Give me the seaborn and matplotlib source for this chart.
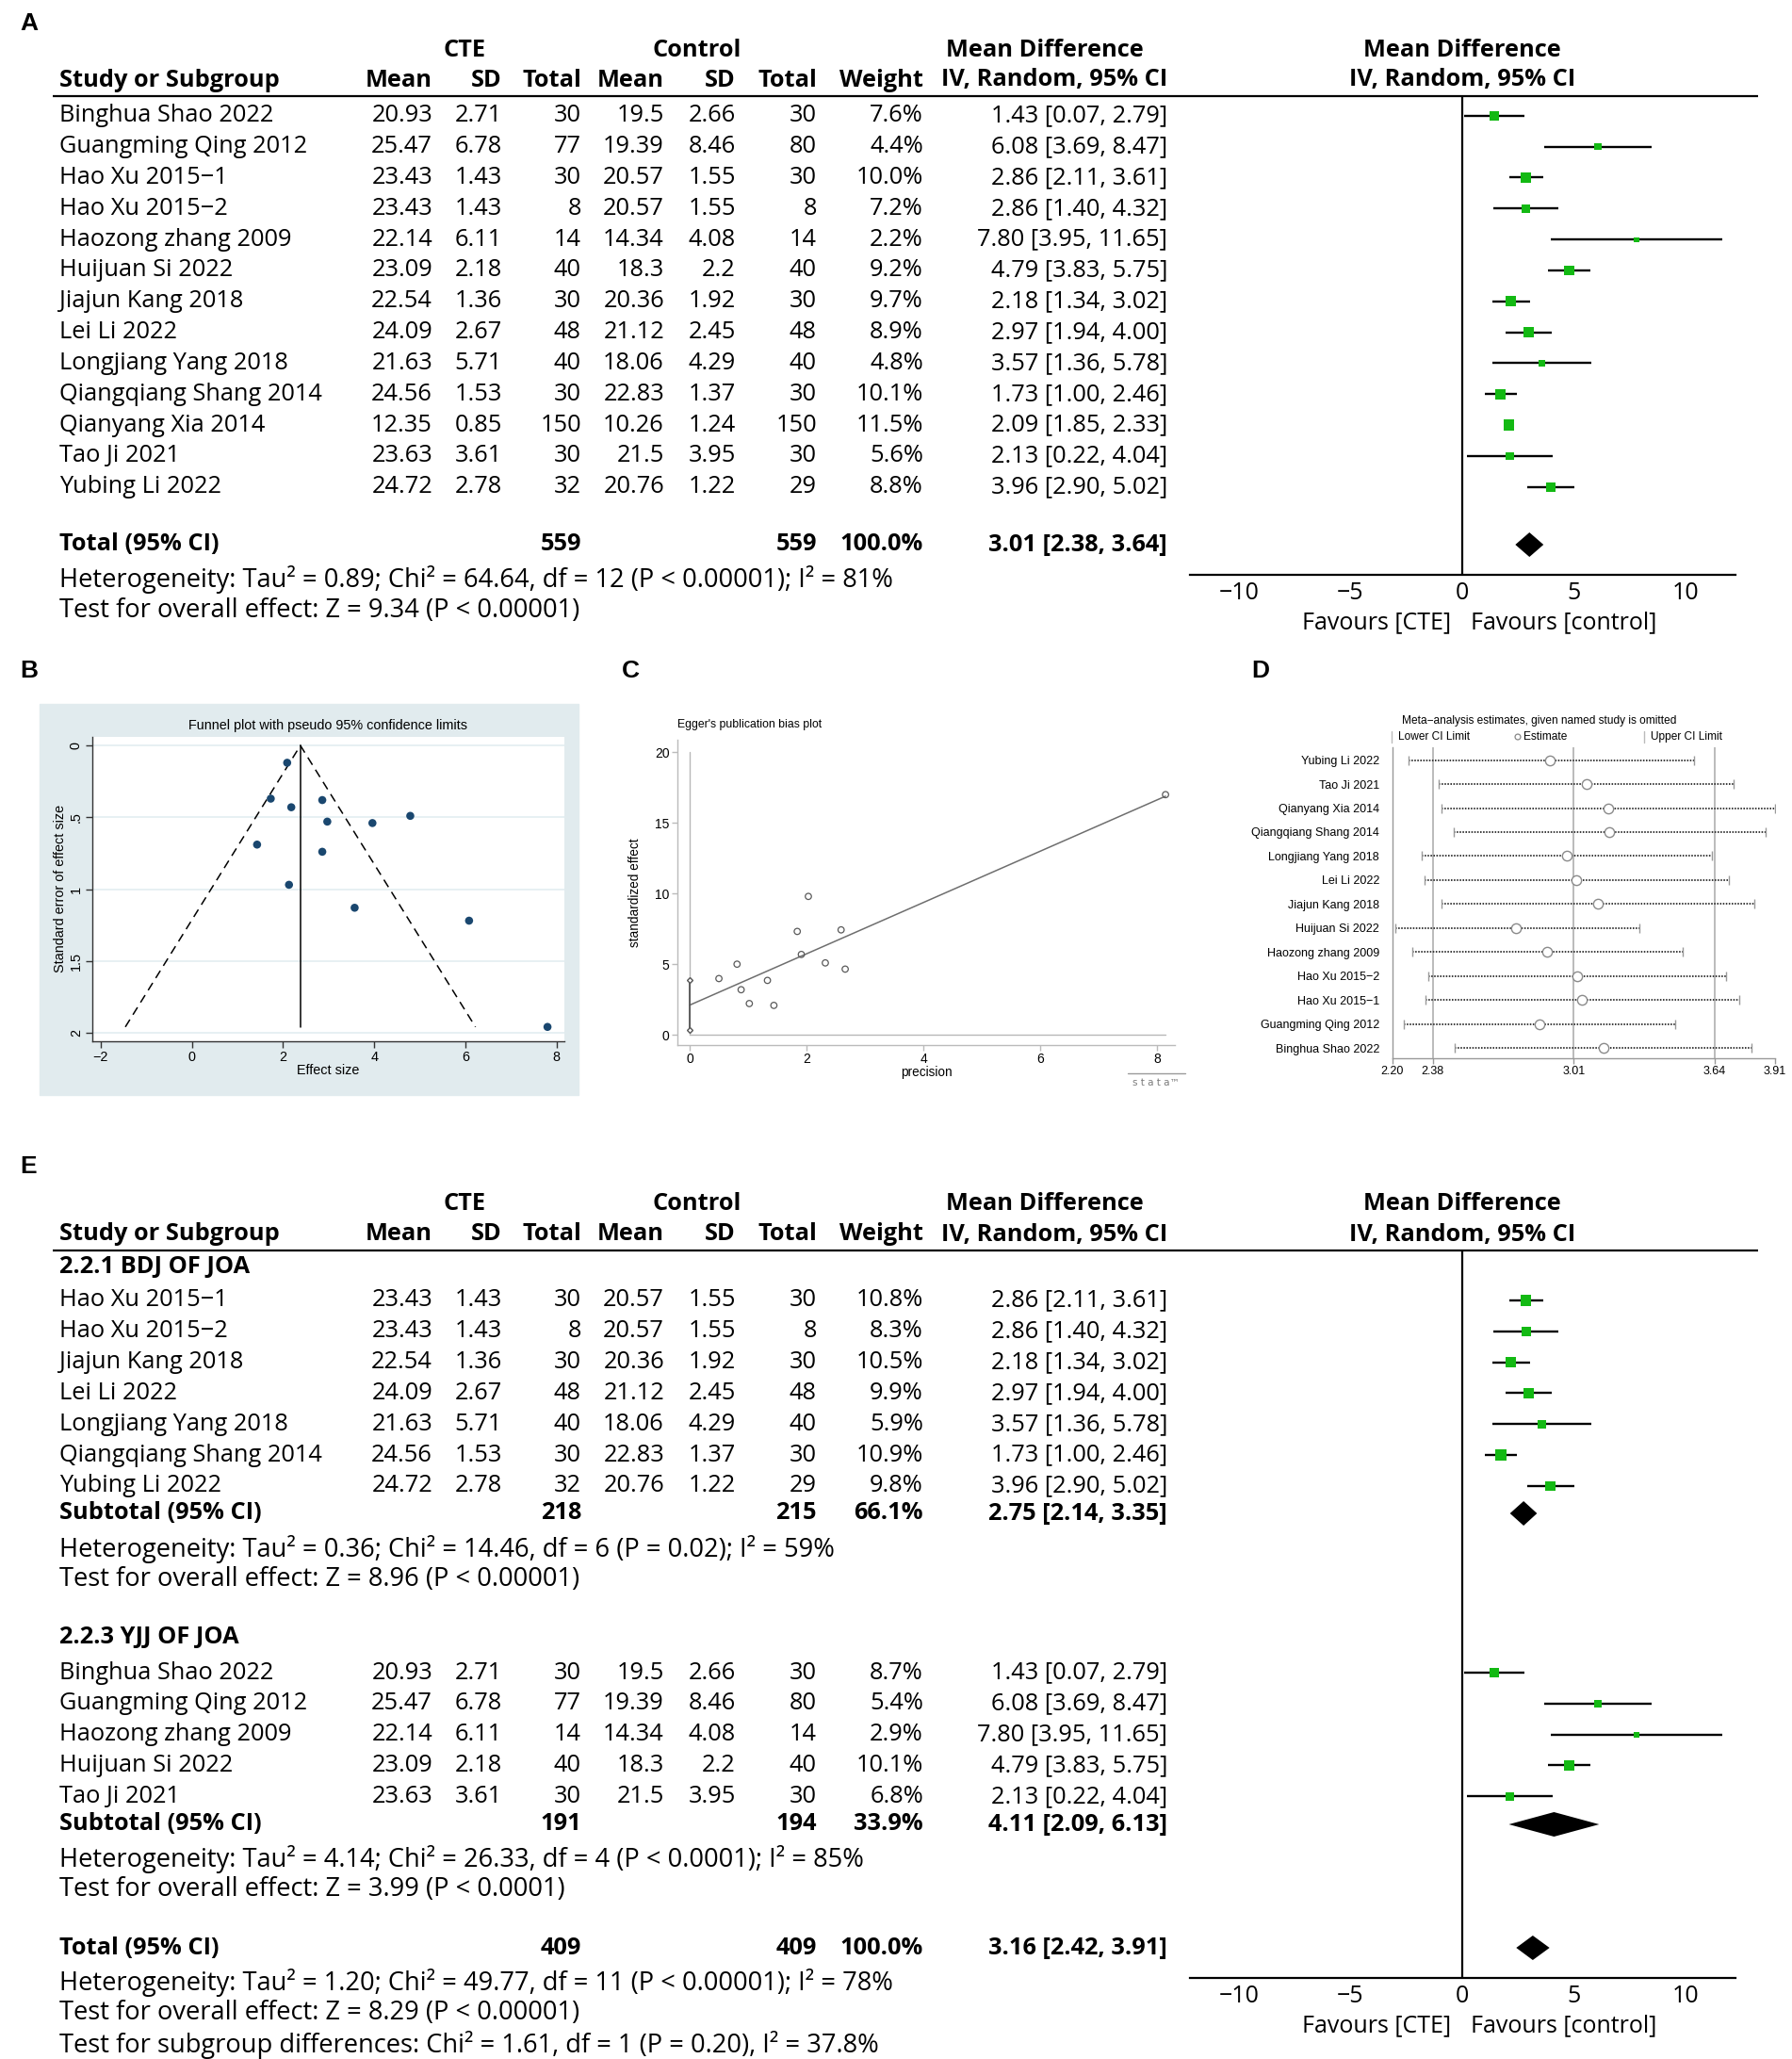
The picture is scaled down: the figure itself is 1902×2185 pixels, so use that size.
import numpy as np
import pandas as pd
import matplotlib
matplotlib.use("Agg")
import matplotlib.pyplot as plt
import seaborn as sns

# ---------------------------------------------------------------- data
study = ["Binghua Shao 2022", "Guangming Qing 2012", "Hao Xu 2015\u22121", "Hao Xu 2015\u22122",
         "Haozong zhang 2009", "Huijuan Si 2022", "Jiajun Kang 2018", "Lei Li 2022",
         "Longjiang Yang 2018", "Qiangqiang Shang 2014", "Qianyang Xia 2014", "Tao Ji 2021",
         "Yubing Li 2022"]
cte_mean = [20.93, 25.47, 23.43, 23.43, 22.14, 23.09, 22.54, 24.09, 21.63, 24.56, 12.35, 23.63, 24.72]
cte_sd = [2.71, 6.78, 1.43, 1.43, 6.11, 2.18, 1.36, 2.67, 5.71, 1.53, 0.85, 3.61, 2.78]
cte_n = [30, 77, 30, 8, 14, 40, 30, 48, 40, 30, 150, 30, 32]
ctl_mean = [19.5, 19.39, 20.57, 20.57, 14.34, 18.3, 20.36, 21.12, 18.06, 22.83, 10.26, 21.5, 20.76]
ctl_sd = [2.66, 8.46, 1.55, 1.55, 4.08, 2.2, 1.92, 2.45, 4.29, 1.37, 1.24, 3.95, 1.22]
ctl_n = [30, 80, 30, 8, 14, 40, 30, 48, 40, 30, 150, 30, 29]
weight_all = [7.6, 4.4, 10.0, 7.2, 2.2, 9.2, 9.7, 8.9, 4.8, 10.1, 11.5, 5.6, 8.8]
md = [1.43, 6.08, 2.86, 2.86, 7.80, 4.79, 2.18, 2.97, 3.57, 1.73, 2.09, 2.13, 3.96]
md_lo = [0.07, 3.69, 2.11, 1.40, 3.95, 3.83, 1.34, 1.94, 1.36, 1.00, 1.85, 0.22, 2.90]
md_hi = [2.79, 8.47, 3.61, 4.32, 11.65, 5.75, 3.02, 4.00, 5.78, 2.46, 2.33, 4.04, 5.02]
total_A = dict(n1=559, n2=559, w="100.0%", est=3.01, lo=2.38, hi=3.64)
het_A = ["Heterogeneity: Tau\u00b2 = 0.89; Chi\u00b2 = 64.64, df = 12 (P < 0.00001); I\u00b2 = 81%",
         "Test for overall effect: Z = 9.34 (P < 0.00001)"]

# subgroup analysis (panel E)
sub1_name = "2.2.1 BDJ OF JOA"
sub1_studies = ["Hao Xu 2015\u22121", "Hao Xu 2015\u22122", "Jiajun Kang 2018", "Lei Li 2022",
                "Longjiang Yang 2018", "Qiangqiang Shang 2014", "Yubing Li 2022"]
sub1_weight = [10.8, 8.3, 10.5, 9.9, 5.9, 10.9, 9.8]
sub1_total = dict(n1=218, n2=215, w="66.1%", est=2.75, lo=2.14, hi=3.35)
sub1_het = ["Heterogeneity: Tau\u00b2 = 0.36; Chi\u00b2 = 14.46, df = 6 (P = 0.02); I\u00b2 = 59%",
            "Test for overall effect: Z = 8.96 (P < 0.00001)"]
sub2_name = "2.2.3 YJJ OF JOA"
sub2_studies = ["Binghua Shao 2022", "Guangming Qing 2012", "Haozong zhang 2009",
                "Huijuan Si 2022", "Tao Ji 2021"]
sub2_weight = [8.7, 5.4, 2.9, 10.1, 6.8]
sub2_total = dict(n1=191, n2=194, w="33.9%", est=4.11, lo=2.09, hi=6.13)
sub2_het = ["Heterogeneity: Tau\u00b2 = 4.14; Chi\u00b2 = 26.33, df = 4 (P < 0.0001); I\u00b2 = 85%",
            "Test for overall effect: Z = 3.99 (P < 0.0001)"]
total_E = dict(n1=409, n2=409, w="100.0%", est=3.16, lo=2.42, hi=3.91)
het_E = ["Heterogeneity: Tau\u00b2 = 1.20; Chi\u00b2 = 49.77, df = 11 (P < 0.00001); I\u00b2 = 78%",
         "Test for overall effect: Z = 8.29 (P < 0.00001)",
         "Test for subgroup differences: Chi\u00b2 = 1.61, df = 1 (P = 0.20), I\u00b2 = 37.8%"]

# funnel plot (panel B)
funnel_se = [0.69, 1.22, 0.38, 0.74, 1.96, 0.49, 0.43, 0.53, 1.13, 0.37, 0.12, 0.97, 0.54]
funnel_center = 2.38
funnel_x = [-1.46, 2.38, 6.22]
funnel_y = [1.96, 0.0, 1.96]

# Egger plot (panel C)
egger_prec = [0.50, 0.81, 0.88, 1.02, 1.33, 1.44, 1.84, 1.91, 2.03, 2.32, 2.59, 2.66, 8.14]
egger_std = [3.98, 5.00, 3.19, 2.21, 3.85, 2.08, 7.32, 5.69, 9.80, 5.09, 7.43, 4.65, 17.01]
egger_line_x = [0.0, 8.14]
egger_line_y = [2.10, 16.90]
egger_ci = [0.31, 3.87]

# sensitivity analysis (panel D)
sens_study = ["Yubing Li 2022", "Tao Ji 2021", "Qianyang Xia 2014", "Qiangqiang Shang 2014",
              "Longjiang Yang 2018", "Lei Li 2022", "Jiajun Kang 2018", "Huijuan Si 2022",
              "Haozong zhang 2009", "Hao Xu 2015\u22122", "Hao Xu 2015\u22121", "Guangming Qing 2012",
              "Binghua Shao 2022"]
sens_est = [2.905, 3.067, 3.164, 3.169, 2.981, 3.022, 3.118, 2.751, 2.892, 3.027, 3.048, 2.856, 3.143]
sens_lo = [2.271, 2.408, 2.419, 2.473, 2.332, 2.344, 2.419, 2.211, 2.287, 2.359, 2.346, 2.251, 2.479]
sens_hi = [3.546, 3.724, 3.910, 3.868, 3.629, 3.704, 3.818, 3.304, 3.497, 3.693, 3.751, 3.464, 3.804]
sens_ticks = [2.20, 2.38, 3.01, 3.64, 3.91]
sens_ref = [2.38, 3.01, 3.64]

forest_ticks = [-10, -5, 0, 5, 10]

# ---------------------------------------------------------------- setup
W, H = 1902, 2185
sns.set_theme(style="white")
plt.rcParams["font.family"] = ["Liberation Sans", "DejaVu Sans"]
TBL = ["Open Sans", "DejaVu Sans"]
ARIAL = ["Liberation Sans", "DejaVu Sans"]
TFS = 18.3
HFS = 19.6
FFS = 18.0
GREEN = "#13b913"

fig = plt.figure(figsize=(W / 100, H / 100), dpi=100)
bg = fig.add_axes([0, 0, 1, 1])
bg.set_xlim(0, W)
bg.set_ylim(H, 0)
bg.axis("off")


def px_axes(x0, y0, x1, y1):
    return fig.add_axes([x0 / W, 1 - y1 / H, (x1 - x0) / W, (y1 - y0) / H])


def t(x, y, s, ha="left", bold=False, size=TFS, family=TBL, **kw):
    bg.text(x, y, s, ha=ha, va="center", fontsize=size, family=family,
            fontweight="bold" if bold else "normal", color=kw.pop("color", "black"), **kw)


def fmt(v):
    return f"{v:g}"


COLS = dict(m1=459, s1=533, n1=617, m2=705, s2=781, n2=867, w=980, ci=1239)
NAME_X = 63
FX0, FX1 = 1263, 1842
FXLIM = (-12.18, 12.23)


def header(y1, y2, yl):
    t(493, y1, "CTE", "center", True)
    t(740, y1, "Control", "center", True)
    t(1109, y1, "Mean Difference", "center", True)
    t(NAME_X, y2, "Study or Subgroup", bold=True)
    labs = ["Mean", "SD", "Total", "Mean", "SD", "Total", "Weight", "IV, Random, 95% CI"]
    for key, lab in zip(["m1", "s1", "n1", "m2", "s2", "n2", "w", "ci"], labs):
        t(COLS[key], y2, lab, "right", True)
    bg.plot([56, 1866], [yl, yl], color="black", lw=1.6, solid_capstyle="butt")
    t(1552, y1, "Mean Difference", "center", True)
    t(1552, y2, "IV, Random, 95% CI", "center", True)


def study_row(y, name, w):
    i = study.index(name)
    t(NAME_X, y, name)
    t(COLS["m1"], y, fmt(cte_mean[i]), "right")
    t(COLS["s1"], y, fmt(cte_sd[i]), "right")
    t(COLS["n1"], y, str(cte_n[i]), "right")
    t(COLS["m2"], y, fmt(ctl_mean[i]), "right")
    t(COLS["s2"], y, fmt(ctl_sd[i]), "right")
    t(COLS["n2"], y, str(ctl_n[i]), "right")
    t(COLS["w"], y, f"{w:.1f}%", "right")
    t(COLS["ci"], y, f"{md[i]:.2f} [{md_lo[i]:.2f}, {md_hi[i]:.2f}]", "right")
    return md[i], md_lo[i], md_hi[i]


def total_row(y, label, d):
    t(NAME_X, y, label, bold=True)
    t(COLS["n1"], y, str(d["n1"]), "right", True)
    t(COLS["n2"], y, str(d["n2"]), "right", True)
    t(COLS["w"], y, d["w"], "right", True)
    t(COLS["ci"], y, f"{d['est']:.2f} [{d['lo']:.2f}, {d['hi']:.2f}]", "right", True)


def forest_axes(ytop, ybot):
    ax = px_axes(FX0, ytop, FX1, ybot)
    ax.set_xlim(*FXLIM)
    ax.set_ylim(ybot, ytop)
    ax.patch.set_alpha(0)
    for s in ["top", "right", "left"]:
        ax.spines[s].set_visible(False)
    ax.spines["bottom"].set_linewidth(1.6)
    ax.spines["bottom"].set_color("black")
    ax.axvline(0, color="black", lw=1.6)
    ax.set_xticks(forest_ticks)
    ax.set_yticks([])
    ax.tick_params(axis="x", direction="in", length=10, width=1.6, labelsize=FFS,
                   pad=5, colors="black")
    for lab in ax.get_xticklabels():
        lab.set_fontfamily(TBL)
    ax.set_xlabel("")
    ax.set_ylabel("")
    return ax


def draw_forest(ax, ys, est, lo, hi, w):
    for y, l, h in zip(ys, lo, hi):
        ax.plot([l, h], [y, y], color="black", lw=1.7, solid_capstyle="butt")
    df = pd.DataFrame(dict(x=est, y=ys, w=w))
    sns.scatterplot(data=df, x="x", y="y", size="w", sizes=(6.3 * 2.2, 6.3 * 11.5),
                    size_norm=(2.2, 11.5), marker="s", color=GREEN, edgecolor="none",
                    legend=False, ax=ax, zorder=4)
    ax.set_xlabel("")
    ax.set_ylabel("")


def diamond(ax, y, d, hh=13):
    ax.fill([d["lo"], d["est"], d["hi"], d["est"]], [y, y - hh, y, y + hh],
            color="black", lw=0, zorder=4)


def favours(y):
    t(1540, y, "Favours [CTE]", "right", size=FFS)
    t(1561, y, "Favours [control]", "left", size=FFS)


# ---------------------------------------------------------------- panel A
t(21, 25, "A", bold=True, size=19, family=ARIAL)
header(53, 85, 102)
ROW = 32.83
ysA = [122.8 + ROW * i for i in range(len(study))]
res = [study_row(y, s, w) for y, s, w in zip(ysA, study, weight_all)]
total_row(578, "Total (95% CI)", total_A)
t(NAME_X, 615, het_A[0], size=HFS)
t(NAME_X, 648, het_A[1], size=HFS)
axA = forest_axes(102, 610)
draw_forest(axA, ysA, md, md_lo, md_hi, weight_all)
diamond(axA, 578, total_A)
favours(661)

# ---------------------------------------------------------------- panel E
t(21, 1238, "E", bold=True, size=19, family=ARIAL)
header(1278, 1310, 1327)
t(NAME_X, 1344, sub1_name, bold=True)
ys1 = [1380 + ROW * i for i in range(len(sub1_studies))]
r1 = [study_row(y, s, w) for y, s, w in zip(ys1, sub1_studies, sub1_weight)]
total_row(1606, "Subtotal (95% CI)", sub1_total)
t(NAME_X, 1644, sub1_het[0], size=HFS)
t(NAME_X, 1676, sub1_het[1], size=HFS)
t(NAME_X, 1737, sub2_name, bold=True)
ys2 = [1775 + ROW * i for i in range(len(sub2_studies))]
r2 = [study_row(y, s, w) for y, s, w in zip(ys2, sub2_studies, sub2_weight)]
total_row(1936, "Subtotal (95% CI)", sub2_total)
t(NAME_X, 1973, sub2_het[0], size=HFS)
t(NAME_X, 2005, sub2_het[1], size=HFS)
total_row(2067, "Total (95% CI)", total_E)
t(NAME_X, 2104, het_E[0], size=HFS)
t(NAME_X, 2136, het_E[1], size=HFS)
t(NAME_X, 2170, het_E[2], size=HFS)
axE = forest_axes(1327, 2099)
draw_forest(axE, ys1, [r[0] for r in r1], [r[1] for r in r1], [r[2] for r in r1], sub1_weight)
draw_forest(axE, ys2, [r[0] for r in r2], [r[1] for r in r2], [r[2] for r in r2], sub2_weight)
diamond(axE, 1606, sub1_total)
diamond(axE, 1936, sub2_total)
diamond(axE, 2067, total_E)
favours(2150)

# ---------------------------------------------------------------- panel B (funnel)
t(21, 712, "B", bold=True, size=19, family=ARIAL)
bg.add_patch(plt.Rectangle((42, 747), 572, 415, color="#e1ebee", zorder=0))
axB = px_axes(97.7, 782, 599, 1105)
axB.set_facecolor("white")
axB.set_xlim(-2.19, 8.17)
axB.set_ylim(2.06, -0.06)
for yv in [0, 0.5, 1, 1.5, 2]:
    axB.axhline(yv, color="#e3eef1", lw=1.2, zorder=0)
sns.lineplot(x=funnel_x, y=funnel_y, sort=False, ax=axB, color="black", lw=1.1,
             linestyle=(0, (6, 4)))
axB.plot([funnel_center, funnel_center], [0, max(funnel_y)], color="black", lw=1.1)
sns.scatterplot(x=md, y=funnel_se, ax=axB, color="#1a476f", s=38, edgecolor="none", zorder=5)
for s in ["top", "right"]:
    axB.spines[s].set_visible(False)
for s in ["left", "bottom"]:
    axB.spines[s].set_color("#333333")
    axB.spines[s].set_linewidth(1.0)
axB.set_xticks([-2, 0, 2, 4, 6, 8])
axB.set_xticklabels(["\u22122", "0", "2", "4", "6", "8"])
axB.set_yticks([0, 0.5, 1, 1.5, 2])
axB.set_yticklabels(["0", ".5", "1", "1.5", "2"], rotation=90, va="center")
axB.tick_params(direction="out", length=5, width=1, colors="#333333", labelsize=10.4,
                pad=2, left=True, bottom=True)
axB.tick_params(axis="x", labelcolor="black")
axB.tick_params(axis="y", labelcolor="black")
axB.set_xlabel("")
axB.set_ylabel("")
t(348, 770, "Funnel plot with pseudo 95% confidence limits", "center", size=10.4, family=ARIAL)
t(348, 1136, "Effect size", "center", size=10.4, family=ARIAL)
bg.text(64, 943, "Standard error of effect size", rotation=90, ha="center", va="center",
        fontsize=10.4, family=ARIAL, color="black")

# ---------------------------------------------------------------- panel C (Egger)
t(660, 712, "C", bold=True, size=19, family=ARIAL)
axC = px_axes(719, 785, 1247, 1109)
axC.set_facecolor("white")
axC.set_xlim(-0.21, 8.3)
axC.set_ylim(-0.73, 20.9)
axC.plot([0, 0], [0, 20], color="#b8b8b8", lw=1.0)
axC.plot([0, egger_line_x[1]], [0, 0], color="#b8b8b8", lw=1.0)
sns.lineplot(x=egger_line_x, y=egger_line_y, ax=axC, color="#6e6e6e", lw=1.1)
axC.plot([0, 0], egger_ci, color="#555555", lw=1.3, marker="D", ms=3,
         markerfacecolor="white", markeredgecolor="#555555")
axC.scatter(egger_prec, egger_std, s=22, facecolors="none", edgecolors="#5a5a5a",
            linewidths=0.9, zorder=5)
for s in ["top", "right"]:
    axC.spines[s].set_visible(False)
for s in ["left", "bottom"]:
    axC.spines[s].set_color("#bbbbbb")
    axC.spines[s].set_linewidth(1.0)
axC.set_xticks([0, 2, 4, 6, 8])
axC.set_yticks([0, 5, 10, 15, 20])
axC.tick_params(direction="out", length=4, width=1, colors="#bbbbbb", labelsize=10,
                pad=2, left=True, bottom=True)
axC.tick_params(axis="both", labelcolor="black")
axC.set_xlabel("")
axC.set_ylabel("")
t(719, 769, "Egger's publication bias plot", "left", size=8.8, family=ARIAL)
t(983, 1138, "precision", "center", size=9.8, family=ARIAL)
bg.text(674, 947, "standardized effect", rotation=90, ha="center", va="center",
        fontsize=9.8, family=ARIAL, color="black")
bg.plot([1197, 1258], [1139, 1139], color="#9a9a9a", lw=1.0)
bg.text(1227, 1149, "s t a t a\u2122", ha="center", va="center", fontsize=7.5,
        family=["DejaVu Sans"], color="#7a7a7a")

# ---------------------------------------------------------------- panel D (sensitivity)
t(1328, 712, "D", bold=True, size=19, family=ARIAL)
axD = px_axes(1478, 793, 1884, 1123)
axD.set_facecolor("white")
axD.set_xlim(sens_ticks[0], sens_ticks[-1])
axD.set_ylim(12.43, -0.534)
rows = np.arange(len(sens_study))
for xv in sens_ref:
    axD.axvline(xv, color="#a8a8a8", lw=1.1, zorder=0)
for r, l, h in zip(rows, sens_lo, sens_hi):
    axD.plot([l, h], [r, r], color="#3a3a3a", lw=1.4, linestyle=(0, (0.8, 0.8)), zorder=2)
sns.scatterplot(x=sens_lo + sens_hi, y=list(rows) + list(rows), ax=axD, marker="|",
                s=60, color="#9a9a9a", linewidth=1.0, zorder=3)
axD.scatter(sens_est, rows, s=55, facecolors="white", edgecolors="#8a8a8a",
            linewidths=1.0, zorder=4)
for s in ["top", "right"]:
    axD.spines[s].set_visible(False)
for s in ["left", "bottom"]:
    axD.spines[s].set_color("#999999")
    axD.spines[s].set_linewidth(1.0)
axD.set_xticks(sens_ticks)
axD.set_xticklabels([f"{v:.2f}" for v in sens_ticks])
axD.set_yticks(rows)
axD.set_yticklabels(sens_study)
axD.tick_params(axis="x", direction="out", length=4, width=1, colors="#999999",
                labelsize=9, labelcolor="black", pad=2, bottom=True)
axD.tick_params(axis="y", length=0, labelsize=9, labelcolor="black", pad=10)
axD.set_xlabel("")
axD.set_ylabel("")
t(1634, 765, "Meta\u2212analysis estimates, given named study is omitted", "center",
  size=8.6, family=ARIAL)
bg.plot([1477, 1477], [776, 788], color="#bbbbbb", lw=1)
t(1484, 782, "Lower CI Limit", "left", size=8.6, family=ARIAL)
bg.scatter([1611], [782], s=18, facecolors="none", edgecolors="#888888", linewidths=0.9)
t(1617, 782, "Estimate", "left", size=8.6, family=ARIAL)
bg.plot([1745, 1745], [776, 788], color="#bbbbbb", lw=1)
t(1752, 782, "Upper CI Limit", "left", size=8.6, family=ARIAL)

fig.savefig("out.png", dpi=100)
